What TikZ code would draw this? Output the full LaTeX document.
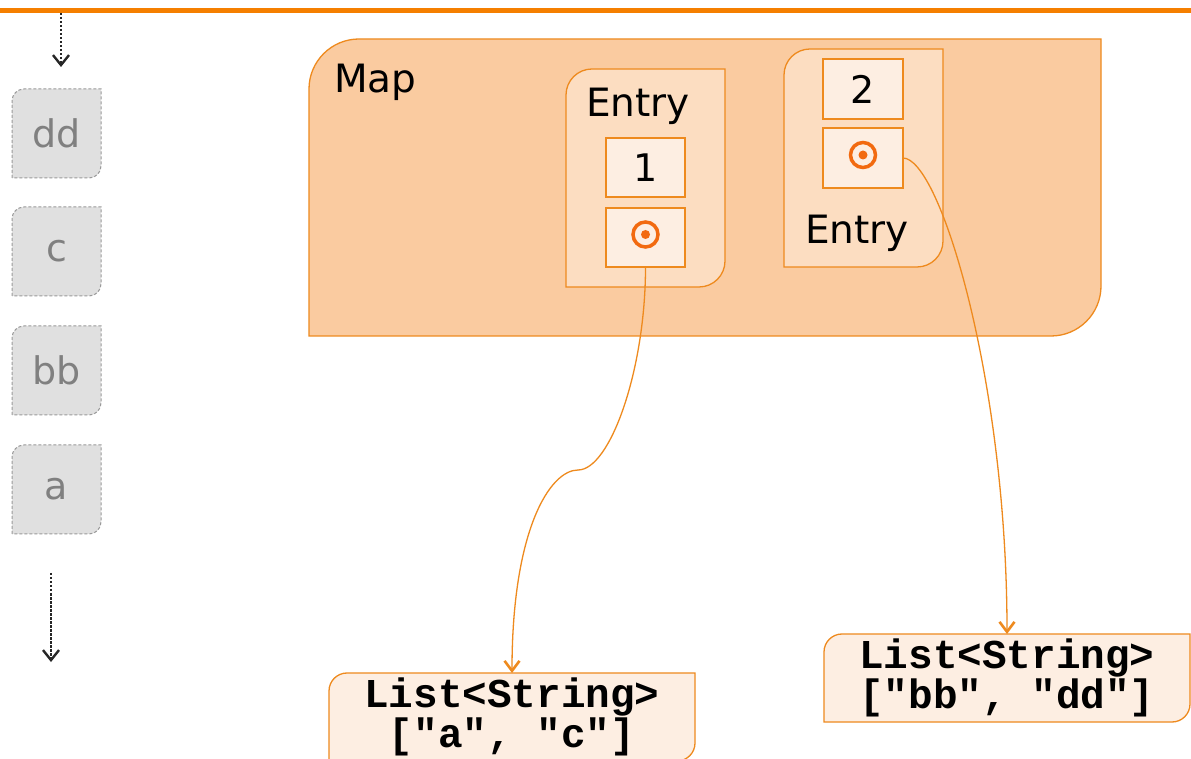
\documentclass[tikz,border=0pt]{standalone}
\usepackage{fontspec}
\setmainfont{DejaVu Sans}
\newfontfamily\codefont{Liberation Mono}
\usetikzlibrary{arrows.meta}

\definecolor{rulecol}{HTML}{F57F00}
\definecolor{mapfill}{HTML}{FACBA0}
\definecolor{entryfill}{HTML}{FCDDC1}
\definecolor{cellfill}{HTML}{FDEEE2}
\definecolor{edgecol}{HTML}{EE8A1E}
\definecolor{ptrcol}{HTML}{F26A10}
\definecolor{ghostfill}{HTML}{E0E0E0}
\definecolor{ghostedge}{HTML}{9A9A9A}
\definecolor{ghosttext}{HTML}{808080}

\pgfdeclarelayer{back}
\pgfsetlayers{back,main}

% outline of a frame node: rounded top-left and bottom-right corners
\newcommand\leafbox[3]{%
  \begin{pgfonlayer}{back}
  \path[#3] (#1.south west) -- ([yshift=-#2]#1.north west)
    arc[start angle=180,end angle=90,radius=#2]
    -- (#1.north east) -- ([yshift=#2]#1.south east)
    arc[start angle=0,end angle=-90,radius=#2] -- cycle;
  \end{pgfonlayer}}

\begin{document}
\begin{tikzpicture}[x=1pt,y=1pt,
  frame/.style={inner sep=0pt,outer sep=0pt},
  cell/.style={draw=edgecol,fill=cellfill,line width=1.2pt,inner sep=0pt,outer sep=0pt,
    minimum width=79pt,minimum height=59pt,font=\fontsize{38}{40}\selectfont},
  titletext/.style={inner sep=0pt,font=\fontsize{39}{40}\selectfont},
  ghost/.style={frame,minimum width=89pt,minimum height=89pt,text=ghosttext,
    font=\fontsize{38}{40}\selectfont},
  ghostline/.style={fill=ghostfill,draw=ghostedge,line width=1pt,dash pattern=on 3pt off 2pt},
  orangeline/.style={draw=edgecol,line width=1.3pt},
  listbox/.style={frame,minimum width=366pt,minimum height=88pt,align=center,
    font=\codefont\bfseries\fontsize{41}{36}\selectfont},
  link/.style={draw=edgecol,line width=1.3pt,
    -{Straight Barb[length=10pt,width=15pt,line width=2.6pt]}},
  flow/.style={draw=black!85,line width=1.2pt,dash pattern=on 2.5pt off 1.5pt,
    -{Straight Barb[length=10pt,width=16pt,line width=2.4pt]}}]

\clip (0,0) rectangle (1191,758);
\begin{pgfonlayer}{back}
  \fill[white] (0,0) rectangle (1191,758);
\end{pgfonlayer}

% header rule
\draw[rulecol,line width=5pt] (0,747.5) -- (1191,747.5);

% stack of values on the left
\node[ghost] (vdd) at (56.5,624.5) {dd};
\node[ghost] (vc)  at (56.5,506.5) {c};
\node[ghost] (vbb) at (56.5,387.5) {bb};
\node[ghost] (va)  at (56.5,268.5) {a};
\foreach \n in {vdd,vc,vbb,va} {\leafbox{\n}{12pt}{ghostline}}

\coordinate (inA) at (61,745);
\coordinate (inB) at (61,691);
\draw[flow] (inA) -- (inB);
\coordinate (outA) at (51,185);
\coordinate (outB) at (51,96);
\draw[flow] (outA) -- (outB);

% the map
\node[frame,minimum width=792pt,minimum height=297pt] (map) at (705,570.5) {};
\leafbox{map}{50pt}{fill=mapfill,orangeline}
\node[titletext,anchor=base west] (maplabel) at (334,665) {Map};

% first entry
\node[frame,minimum width=159pt,minimum height=218pt] (e1) at (645.5,580) {};
\leafbox{e1}{26pt}{fill=entryfill,orangeline}
\node[titletext,anchor=base] (e1label) at (638,641) {Entry};
\node[cell] (k1) at (645.5,590.5) {1};
\node[cell] (p1) at (645.5,520.5) {};

% second entry
\node[frame,minimum width=159pt,minimum height=218pt] (e2) at (863.5,600) {};
\leafbox{e2}{26pt}{fill=entryfill,orangeline}
\node[cell,minimum width=80pt,minimum height=60pt] (k2) at (863,669) {2};
\node[cell,minimum width=80pt,minimum height=60pt] (p2) at (863,600) {};
\node[titletext,anchor=base] (e2label) at (857,514) {Entry};

% reference markers
\foreach \p in {p1,p2} {
  \draw[ptrcol,line width=3.5pt] ([yshift=3pt]\p.center) circle[radius=12.5pt];
  \fill[ptrcol] ([yshift=3pt]\p.center) circle[radius=4.5pt];
}

% list values
\node[listbox] (l1) at (512,41) {List<String>\\\relax["a", "c"]};
\leafbox{l1}{18pt}{fill=cellfill,orangeline}
\node[listbox] (l2) at (1007,80) {List<String>\\\relax["bb", "dd"]};
\leafbox{l2}{18pt}{fill=cellfill,orangeline}

% references
\coordinate (bend) at (578,288);
\draw[orangeline] (p1.south) .. controls (645.5,388) and (610,288) .. (bend);
\draw[link] (bend) .. controls (550,288) and (512,228) .. (l1.north);
\draw[link] (p2.east) .. controls (940,600) and (1007,378) .. (l2.north);

\end{tikzpicture}
\end{document}
